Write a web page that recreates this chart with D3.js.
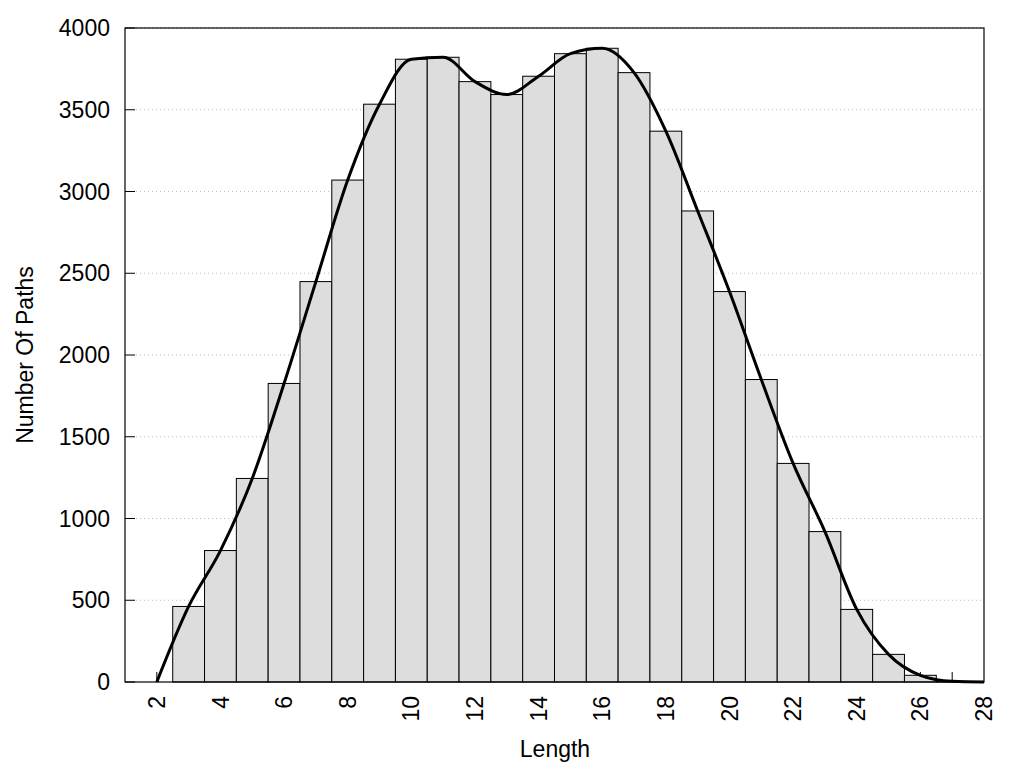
<!DOCTYPE html>
<html>
<head>
<meta charset="utf-8">
<script src="https://cdn.jsdelivr.net/npm/d3@7"></script>
<style>
  body { margin: 0; background: #fff; }
  text { font-family: "Liberation Sans", Arial, sans-serif; fill: #000; }
</style>
</head>
<body>
<svg width="1024" height="768"></svg>
<script>
// path lengths and how many paths have that length
const lengths = [2, 3, 4, 5, 6, 7, 8, 9, 10, 11, 12, 13, 14, 15, 16, 17, 18, 19, 20, 21, 22, 23, 24, 25, 26, 27, 28];
const counts  = [0, 462, 804, 1245, 1826, 2449, 3070, 3534, 3809, 3821, 3672, 3593, 3705, 3843, 3876, 3727, 3369, 2881, 2388, 1850, 1337, 920, 444, 169, 41, 4, 0];
const xTicks = [2, 4, 6, 8, 10, 12, 14, 16, 18, 20, 22, 24, 26, 28];
const yTicks = [0, 500, 1000, 1500, 2000, 2500, 3000, 3500, 4000];

const data = lengths.map((d, i) => ({len: d, n: counts[i]}));

const svg = d3.select("svg");
const padL = 125, padR = 984, padT = 28, padB = 682;

const x = d3.scaleLinear().domain([1, 28]).range([padL, padR]);
const y = d3.scaleLinear().domain([0, 4000]).range([padB, padT]);

// dotted grid
svg.append("g").selectAll("line")
  .data(yTicks.slice(1))
  .enter().append("line")
  .attr("x1", padL + 11).attr("x2", padR)
  .attr("y1", d => y(d)).attr("y2", d => y(d))
  .attr("stroke", "#bbb").attr("stroke-width", 1)
  .attr("stroke-dasharray", "1,3");

// inward ticks
svg.append("g").selectAll("line")
  .data(yTicks)
  .enter().append("line")
  .attr("x1", padL).attr("x2", padL + 10)
  .attr("y1", d => y(d)).attr("y2", d => y(d))
  .attr("stroke", "#000");
svg.append("g").selectAll("line")
  .data(d3.range(2, 28))
  .enter().append("line")
  .attr("x1", d => x(d)).attr("x2", d => x(d))
  .attr("y1", padB).attr("y2", padB - 10)
  .attr("stroke", "#000");

// bars
svg.append("g").selectAll("rect")
  .data(data.filter(d => d.len > 2 && d.len < 28))
  .enter().append("rect")
  .attr("x", d => x(d.len - 0.5))
  .attr("width", d => x(d.len + 0.5) - x(d.len - 0.5))
  .attr("y", d => y(d.n))
  .attr("height", d => padB - y(d.n))
  .attr("fill", "#dddddd")
  .attr("stroke", "#000")
  .attr("stroke-width", 1);

// smoothed line
const line = d3.line()
  .x(d => x(d.len))
  .y(d => y(d.n))
  .curve(d3.curveMonotoneX);
svg.append("path")
  .datum(data)
  .attr("d", line)
  .attr("fill", "none")
  .attr("stroke", "#000")
  .attr("stroke-width", 3);

// frame
svg.append("rect")
  .attr("x", padL).attr("y", padT)
  .attr("width", padR - padL).attr("height", padB - padT)
  .attr("fill", "none").attr("stroke", "#000").attr("stroke-width", 1.2);

// tick labels
svg.append("g").selectAll("text")
  .data(yTicks)
  .enter().append("text")
  .attr("x", 110).attr("y", d => y(d))
  .attr("dy", "0.35em")
  .attr("text-anchor", "end")
  .style("font-size", "23px")
  .text(d => d);

svg.append("g").selectAll("text")
  .data(xTicks)
  .enter().append("text")
  .attr("transform", d => "translate(" + x(d) + "," + (padB + 14) + ") rotate(-90)")
  .attr("dy", "0.35em")
  .attr("text-anchor", "end")
  .style("font-size", "23px")
  .text(d => d);

// axis titles
svg.append("text")
  .attr("x", 555).attr("y", 757)
  .attr("text-anchor", "middle")
  .style("font-size", "23px")
  .text("Length");

svg.append("text")
  .attr("transform", "translate(33,355) rotate(-90)")
  .attr("text-anchor", "middle")
  .style("font-size", "23px")
  .text("Number Of Paths");
</script>
</body>
</html>
